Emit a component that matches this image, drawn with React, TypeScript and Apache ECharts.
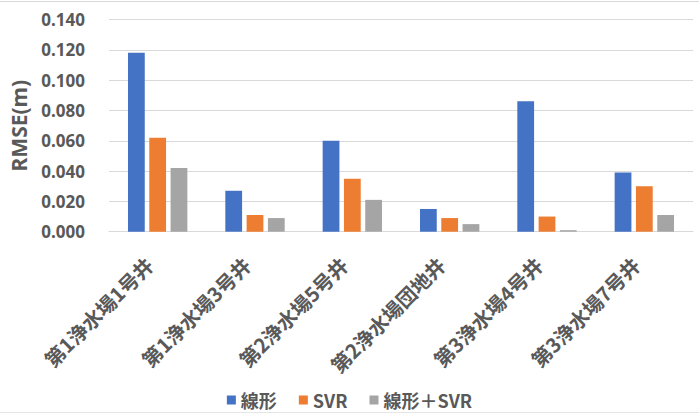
import React, { useEffect, useRef } from "react";
import * as echarts from "echarts";

const categories = [
  "第1浄水場1号井",
  "第1浄水場3号井",
  "第2浄水場5号井",
  "第2浄水場団地井",
  "第3浄水場4号井",
  "第3浄水場7号井",
];
const seriesNames = ["線形", "SVR", "線形＋SVR"];
const linearValues = [0.118, 0.027, 0.06, 0.015, 0.086, 0.039];
const svrValues = [0.062, 0.011, 0.035, 0.009, 0.01, 0.03];
const comboValues = [0.042, 0.009, 0.021, 0.005, 0.001, 0.011];
const colors = ["#4472C4", "#ED7D31", "#A5A5A5"];

export default function App() {
  const ref = useRef<HTMLDivElement>(null);
  useEffect(() => {
    if (!ref.current) return;
    const chart = echarts.init(ref.current, undefined, { renderer: "svg" });
    const textColor = "#595959";
    const font = "'Noto Sans CJK JP', 'Noto Sans', sans-serif";
    const data = [linearValues, svrValues, comboValues];
    chart.setOption({
      animation: false,
      backgroundColor: "#ffffff",
      textStyle: { fontFamily: font },
      grid: { left: 100, right: 6, top: 19.5, bottom: 184.3 },
      legend: {
        data: seriesNames,
        left: "center",
        top: 391,
        padding: 0,
        icon: "rect",
        itemWidth: 9,
        itemHeight: 9,
        itemGap: 22,
        textStyle: { fontSize: 18, color: textColor, fontWeight: "bold", fontFamily: font },
      },
      xAxis: {
        type: "category",
        data: categories,
        axisLine: { lineStyle: { color: "#d9d9d9", width: 1 } },
        axisTick: { show: false },
        axisLabel: {
          rotate: 45,
          interval: 0,
          margin: 21,
          padding: [0, 12, 0, 0],
          fontSize: 20,
          fontWeight: "bold",
          color: textColor,
          fontFamily: font,
        },
      },
      yAxis: {
        type: "value",
        min: 0,
        max: 0.14,
        interval: 0.02,
        name: "RMSE(m)",
        nameLocation: "middle",
        nameGap: 80,
        nameRotate: 90,
        nameTextStyle: { fontSize: 21, fontWeight: "bold", color: textColor, fontFamily: "'Noto Sans', sans-serif" },
        axisLine: { show: false },
        axisTick: { show: false },
        splitLine: { lineStyle: { color: "#d9d9d9", width: 1 } },
        axisLabel: {
          formatter: (v: number) => v.toFixed(3),
          fontSize: 17,
          fontWeight: "bold",
          color: textColor,
          margin: 24,
          fontFamily: "'Noto Sans', sans-serif",
        },
      },
      series: seriesNames.map((name, i) => ({
        name,
        type: "bar",
        data: data[i],
        itemStyle: { color: colors[i] },
        barGap: "27%",
        barCategoryGap: "39%",
      })),
      graphic: [
        { type: "line", shape: { x1: 0, y1: 1.5, x2: 699, y2: 1.5 }, style: { stroke: "#d9d9d9", lineWidth: 1 } },
        { type: "line", shape: { x1: 0, y1: 412.5, x2: 699, y2: 412.5 }, style: { stroke: "#e6e6e6", lineWidth: 1 } },
      ],
    });
    return () => chart.dispose();
  }, []);
  return <div ref={ref} style={{ width: 699, height: 416, position: "absolute", left: 0, top: 0 }} />;
}
